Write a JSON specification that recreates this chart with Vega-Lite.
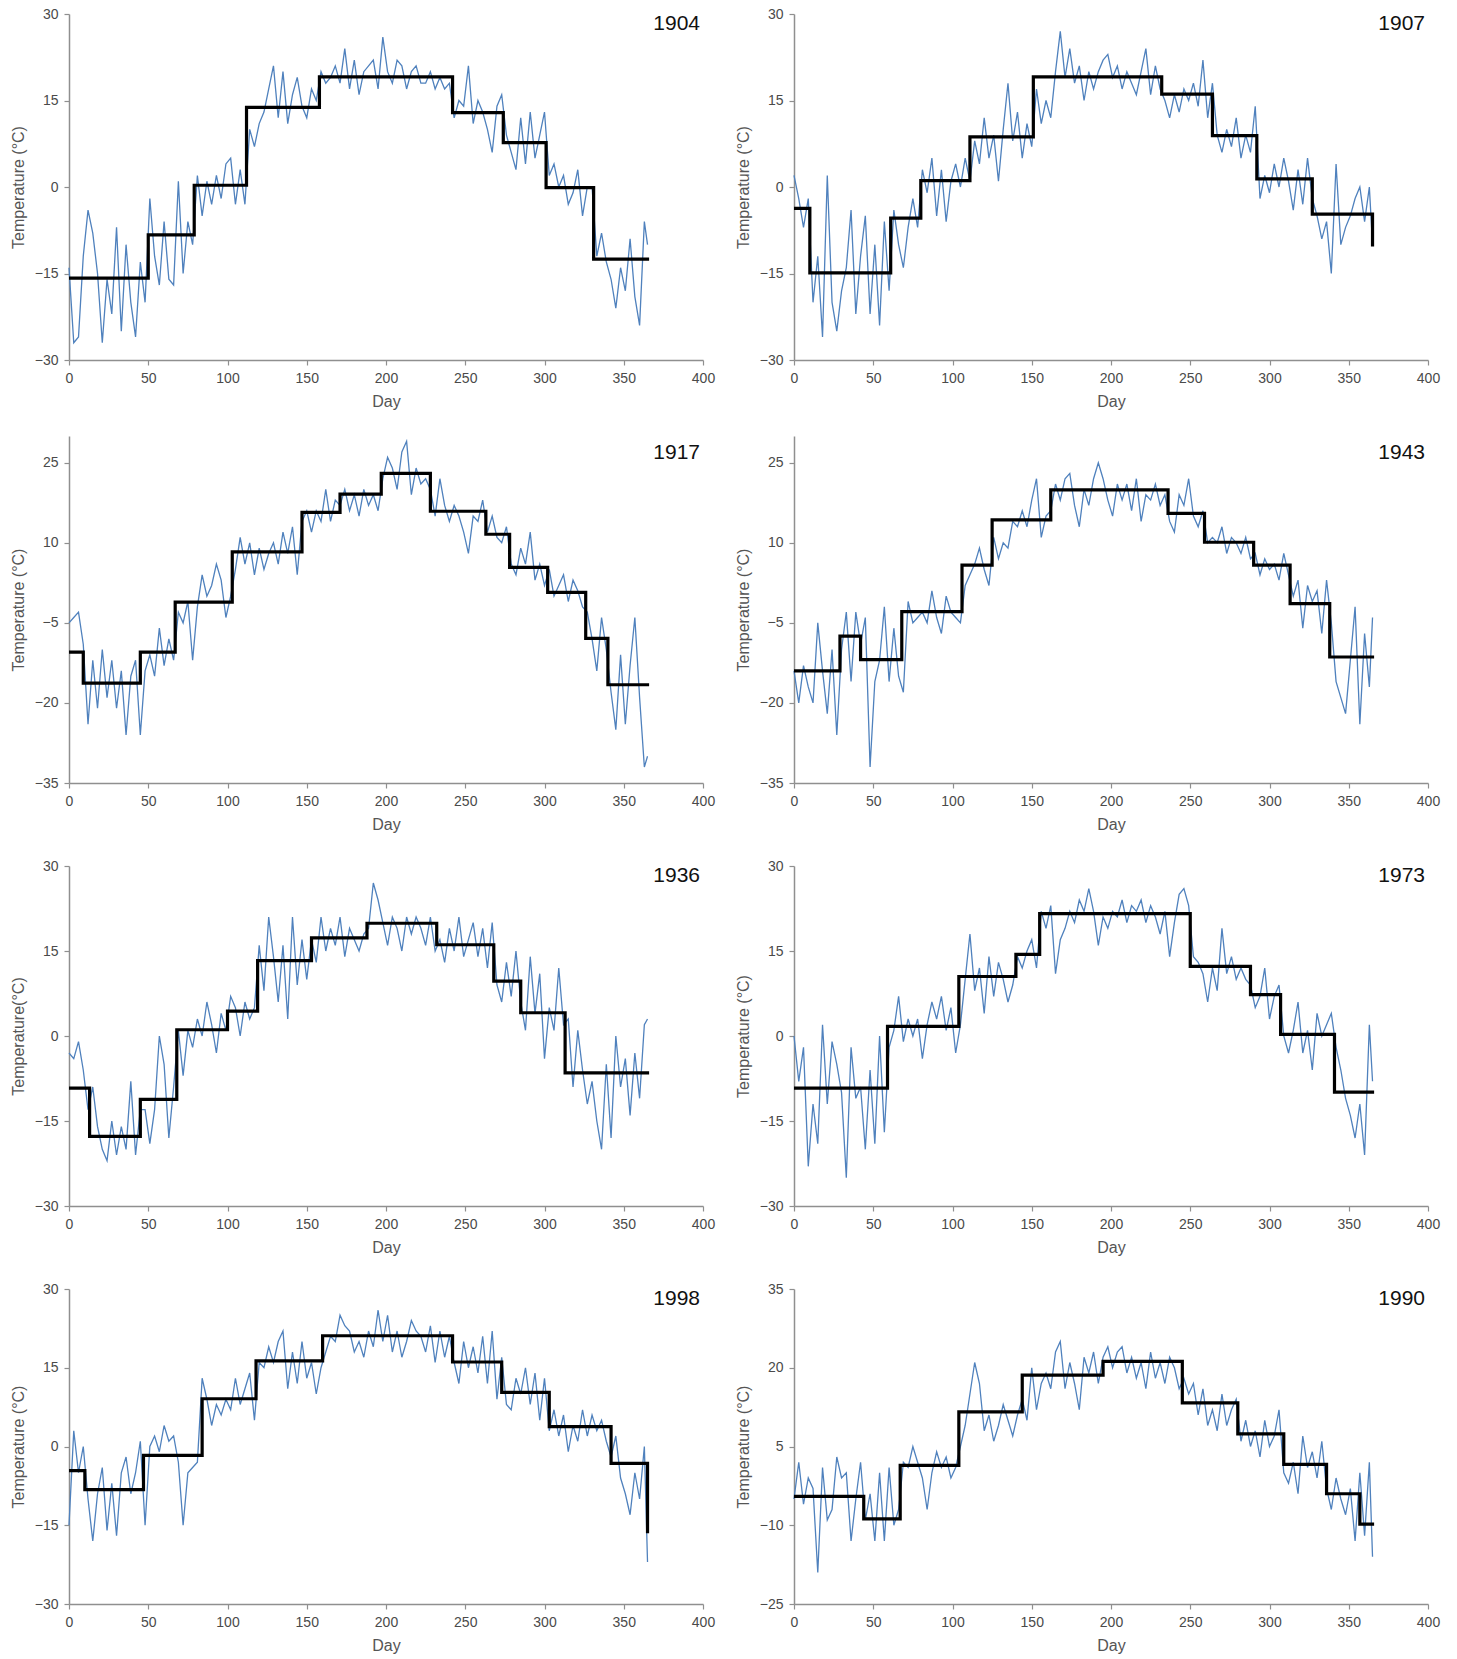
{
"$schema":"https://vega.github.io/schema/vega-lite/v6.json",
"background":"white",
"padding":{"left":10,"top":7,"right":5,"bottom":5},
"spacing":27,
"config":{
"view":{"stroke":null},
"axis":{"grid":false,"domainColor":"#8f8f8f","domainWidth":1.5,"tickColor":"#8f8f8f","tickWidth":1.2,"tickSize":5,"labelFont":"Liberation Sans","labelFontSize":14,"labelColor":"#4a4a4a","labelPadding":6,"labelFlush":false,"labelOverlap":false,"titleFont":"Liberation Sans","titleFontSize":16,"titleFontWeight":"normal","titleColor":"#555555","titlePadding":8},
"title":{"font":"Liberation Sans","fontSize":21,"fontWeight":"normal","color":"#111111","anchor":"end","frame":"group","offset":-27,"dx":-3}
},
"datasets":{
"daily":[
{"d":0,"t1904":-14,"t1907":2,"t1917":-5,"t1943":-14,"t1936":-3,"t1973":0,"t1998":-15,"t1990":-5},
{"d":3,"t1904":-27,"t1907":-2,"t1917":-4,"t1943":-20,"t1936":-4,"t1973":-8,"t1998":3,"t1990":2},
{"d":6,"t1904":-26,"t1907":-7,"t1917":-3,"t1943":-13,"t1936":-1,"t1973":-2,"t1998":-5,"t1990":-6},
{"d":9,"t1904":-12,"t1907":-2,"t1917":-9,"t1943":-17,"t1936":-6,"t1973":-23,"t1998":0,"t1990":-1},
{"d":12,"t1904":-4,"t1907":-20,"t1917":-24,"t1943":-20,"t1936":-13,"t1973":-12,"t1998":-10,"t1990":-3},
{"d":15,"t1904":-8,"t1907":-12,"t1917":-12,"t1943":-5,"t1936":-9,"t1973":-19,"t1998":-18,"t1990":-19},
{"d":18,"t1904":-15,"t1907":-26,"t1917":-21,"t1943":-14,"t1936":-16,"t1973":2,"t1998":-9,"t1990":1},
{"d":21,"t1904":-27,"t1907":2,"t1917":-10,"t1943":-22,"t1936":-20,"t1973":-12,"t1998":-4,"t1990":-9},
{"d":24,"t1904":-16,"t1907":-20,"t1917":-19,"t1943":-10,"t1936":-22,"t1973":-1,"t1998":-16,"t1990":-7},
{"d":27,"t1904":-22,"t1907":-25,"t1917":-12,"t1943":-26,"t1936":-15,"t1973":-5,"t1998":-7,"t1990":3},
{"d":30,"t1904":-7,"t1907":-18,"t1917":-21,"t1943":-10,"t1936":-21,"t1973":-10,"t1998":-17,"t1990":-1},
{"d":33,"t1904":-25,"t1907":-14,"t1917":-14,"t1943":-3,"t1936":-16,"t1973":-25,"t1998":-5,"t1990":0},
{"d":36,"t1904":-10,"t1907":-4,"t1917":-26,"t1943":-16,"t1936":-20,"t1973":-2,"t1998":-2,"t1990":-13},
{"d":39,"t1904":-20,"t1907":-22,"t1917":-15,"t1943":-3,"t1936":-8,"t1973":-11,"t1998":-9,"t1990":-5},
{"d":42,"t1904":-26,"t1907":-12,"t1917":-12,"t1943":-9,"t1936":-21,"t1973":-9,"t1998":-5,"t1990":2},
{"d":45,"t1904":-13,"t1907":-5,"t1917":-26,"t1943":-4,"t1936":-13,"t1973":-20,"t1998":1,"t1990":-9},
{"d":48,"t1904":-20,"t1907":-22,"t1917":-14,"t1943":-32,"t1936":-13,"t1973":-6,"t1998":-15,"t1990":-4},
{"d":51,"t1904":-2,"t1907":-10,"t1917":-11,"t1943":-16,"t1936":-19,"t1973":-19,"t1998":0,"t1990":-13},
{"d":54,"t1904":-12,"t1907":-24,"t1917":-15,"t1943":-12,"t1936":-13,"t1973":0,"t1998":2,"t1990":0},
{"d":57,"t1904":-17,"t1907":-6,"t1917":-6,"t1943":-2,"t1936":0,"t1973":-17,"t1998":-1,"t1990":-13},
{"d":60,"t1904":-6,"t1907":-18,"t1917":-13,"t1943":-16,"t1936":-5,"t1973":-2,"t1998":4,"t1990":1},
{"d":63,"t1904":-16,"t1907":-4,"t1917":-8,"t1943":-6,"t1936":-18,"t1973":1,"t1998":1,"t1990":-10},
{"d":66,"t1904":-17,"t1907":-10,"t1917":-12,"t1943":-15,"t1936":-9,"t1973":7,"t1998":2,"t1990":-7},
{"d":69,"t1904":1,"t1907":-14,"t1917":-3,"t1943":-18,"t1936":1,"t1973":-1,"t1998":-3,"t1990":2},
{"d":72,"t1904":-15,"t1907":-7,"t1917":-5,"t1943":-1,"t1936":-7,"t1973":3,"t1998":-15,"t1990":1},
{"d":75,"t1904":-6,"t1907":-2,"t1917":-1,"t1943":-5,"t1936":1,"t1973":0,"t1998":-5,"t1990":5},
{"d":78,"t1904":-10,"t1907":-7,"t1917":-12,"t1943":-4,"t1936":-2,"t1973":3,"t1998":-4,"t1990":2},
{"d":81,"t1904":2,"t1907":3,"t1917":-2,"t1943":-3,"t1936":3,"t1973":-4,"t1998":-3,"t1990":-1},
{"d":84,"t1904":-5,"t1907":-1,"t1917":4,"t1943":-5,"t1936":0,"t1973":2,"t1998":13,"t1990":-7},
{"d":87,"t1904":1,"t1907":5,"t1917":0,"t1943":1,"t1936":6,"t1973":6,"t1998":9,"t1990":0},
{"d":90,"t1904":-3,"t1907":-5,"t1917":2,"t1943":-4,"t1936":2,"t1973":3,"t1998":4,"t1990":4},
{"d":93,"t1904":2,"t1907":3,"t1917":6,"t1943":-7,"t1936":-3,"t1973":7,"t1998":8,"t1990":1},
{"d":96,"t1904":-2,"t1907":-6,"t1917":3,"t1943":0,"t1936":4,"t1973":1,"t1998":6,"t1990":3},
{"d":99,"t1904":4,"t1907":1,"t1917":-4,"t1943":-3,"t1936":1,"t1973":5,"t1998":9,"t1990":-1},
{"d":102,"t1904":5,"t1907":4,"t1917":0,"t1943":-4,"t1936":7,"t1973":-3,"t1998":7,"t1990":1},
{"d":105,"t1904":-3,"t1907":0,"t1917":5,"t1943":-5,"t1936":5,"t1973":2,"t1998":13,"t1990":5},
{"d":108,"t1904":3,"t1907":5,"t1917":11,"t1943":2,"t1936":0,"t1973":10,"t1998":8,"t1990":9},
{"d":111,"t1904":-3,"t1907":1,"t1917":6,"t1943":4,"t1936":6,"t1973":18,"t1998":11,"t1990":15},
{"d":114,"t1904":10,"t1907":8,"t1917":10,"t1943":6,"t1936":3,"t1973":8,"t1998":14,"t1990":21},
{"d":117,"t1904":7,"t1907":4,"t1917":4,"t1943":9,"t1936":5,"t1973":12,"t1998":5,"t1990":17},
{"d":120,"t1904":11,"t1907":12,"t1917":9,"t1943":5,"t1936":16,"t1973":4,"t1998":16,"t1990":8},
{"d":123,"t1904":13,"t1907":5,"t1917":5,"t1943":2,"t1936":8,"t1973":14,"t1998":15,"t1990":11},
{"d":126,"t1904":17,"t1907":9,"t1917":8,"t1943":11,"t1936":21,"t1973":7,"t1998":19,"t1990":6},
{"d":129,"t1904":21,"t1907":1,"t1917":10,"t1943":7,"t1936":14,"t1973":13,"t1998":16,"t1990":9},
{"d":132,"t1904":12,"t1907":10,"t1917":6,"t1943":10,"t1936":6,"t1973":10,"t1998":20,"t1990":13},
{"d":135,"t1904":20,"t1907":18,"t1917":12,"t1943":9,"t1936":16,"t1973":6,"t1998":22,"t1990":10},
{"d":138,"t1904":11,"t1907":8,"t1917":8,"t1943":14,"t1936":3,"t1973":9,"t1998":11,"t1990":7},
{"d":141,"t1904":16,"t1907":13,"t1917":13,"t1943":13,"t1936":21,"t1973":14,"t1998":18,"t1990":11},
{"d":144,"t1904":19,"t1907":5,"t1917":4,"t1943":16,"t1936":9,"t1973":12,"t1998":12,"t1990":14},
{"d":147,"t1904":14,"t1907":11,"t1917":14,"t1943":13,"t1936":17,"t1973":15,"t1998":20,"t1990":10},
{"d":150,"t1904":12,"t1907":7,"t1917":16,"t1943":18,"t1936":10,"t1973":17,"t1998":13,"t1990":20},
{"d":153,"t1904":17,"t1907":17,"t1917":12,"t1943":22,"t1936":17,"t1973":12,"t1998":16,"t1990":12},
{"d":156,"t1904":15,"t1907":11,"t1917":16,"t1943":11,"t1936":13,"t1973":22,"t1998":10,"t1990":17},
{"d":159,"t1904":20,"t1907":15,"t1917":14,"t1943":15,"t1936":21,"t1973":19,"t1998":15,"t1990":19},
{"d":162,"t1904":18,"t1907":12,"t1917":20,"t1943":16,"t1936":15,"t1973":23,"t1998":18,"t1990":16},
{"d":165,"t1904":19,"t1907":20,"t1917":14,"t1943":21,"t1936":19,"t1973":11,"t1998":21,"t1990":23},
{"d":168,"t1904":21,"t1907":27,"t1917":18,"t1943":18,"t1936":16,"t1973":17,"t1998":20,"t1990":25},
{"d":171,"t1904":18,"t1907":19,"t1917":17,"t1943":22,"t1936":21,"t1973":19,"t1998":25,"t1990":16},
{"d":174,"t1904":24,"t1907":24,"t1917":20,"t1943":23,"t1936":14,"t1973":22,"t1998":23,"t1990":21},
{"d":177,"t1904":17,"t1907":18,"t1917":16,"t1943":17,"t1936":19,"t1973":20,"t1998":22,"t1990":17},
{"d":180,"t1904":22,"t1907":21,"t1917":19,"t1943":13,"t1936":17,"t1973":24,"t1998":18,"t1990":12},
{"d":183,"t1904":16,"t1907":15,"t1917":15,"t1943":20,"t1936":15,"t1973":22,"t1998":20,"t1990":22},
{"d":186,"t1904":20,"t1907":20,"t1917":20,"t1943":17,"t1936":18,"t1973":26,"t1998":17,"t1990":19},
{"d":189,"t1904":21,"t1907":17,"t1917":17,"t1943":22,"t1936":19,"t1973":22,"t1998":22,"t1990":23},
{"d":192,"t1904":22,"t1907":20,"t1917":19,"t1943":25,"t1936":27,"t1973":16,"t1998":19,"t1990":17},
{"d":195,"t1904":17,"t1907":22,"t1917":16,"t1943":22,"t1936":24,"t1973":21,"t1998":26,"t1990":22},
{"d":198,"t1904":26,"t1907":23,"t1917":22,"t1943":18,"t1936":20,"t1973":19,"t1998":20,"t1990":24},
{"d":201,"t1904":20,"t1907":19,"t1917":26,"t1943":15,"t1936":16,"t1973":22,"t1998":25,"t1990":20},
{"d":204,"t1904":18,"t1907":21,"t1917":24,"t1943":21,"t1936":21,"t1973":21,"t1998":18,"t1990":23},
{"d":207,"t1904":22,"t1907":17,"t1917":20,"t1943":18,"t1936":19,"t1973":24,"t1998":22,"t1990":24},
{"d":210,"t1904":21,"t1907":20,"t1917":27,"t1943":21,"t1936":15,"t1973":20,"t1998":17,"t1990":19},
{"d":213,"t1904":17,"t1907":18,"t1917":29,"t1943":16,"t1936":21,"t1973":23,"t1998":20,"t1990":22},
{"d":216,"t1904":20,"t1907":16,"t1917":19,"t1943":22,"t1936":18,"t1973":22,"t1998":24,"t1990":18},
{"d":219,"t1904":21,"t1907":20,"t1917":24,"t1943":14,"t1936":21,"t1973":24,"t1998":22,"t1990":21},
{"d":222,"t1904":18,"t1907":24,"t1917":21,"t1943":19,"t1936":19,"t1973":20,"t1998":21,"t1990":16},
{"d":225,"t1904":18,"t1907":16,"t1917":22,"t1943":18,"t1936":16,"t1973":23,"t1998":18,"t1990":23},
{"d":228,"t1904":20,"t1907":21,"t1917":20,"t1943":21,"t1936":21,"t1973":21,"t1998":23,"t1990":18},
{"d":231,"t1904":17,"t1907":17,"t1917":15,"t1943":17,"t1936":15,"t1973":18,"t1998":16,"t1990":21},
{"d":234,"t1904":19,"t1907":15,"t1917":22,"t1943":19,"t1936":17,"t1973":22,"t1998":22,"t1990":17},
{"d":237,"t1904":17,"t1907":12,"t1917":17,"t1943":14,"t1936":13,"t1973":14,"t1998":17,"t1990":22},
{"d":240,"t1904":18,"t1907":16,"t1917":14,"t1943":12,"t1936":19,"t1973":20,"t1998":21,"t1990":20},
{"d":243,"t1904":12,"t1907":13,"t1917":17,"t1943":19,"t1936":15,"t1973":25,"t1998":16,"t1990":16},
{"d":246,"t1904":15,"t1907":17,"t1917":15,"t1943":17,"t1936":21,"t1973":26,"t1998":12,"t1990":18},
{"d":249,"t1904":14,"t1907":15,"t1917":12,"t1943":22,"t1936":14,"t1973":23,"t1998":20,"t1990":15},
{"d":252,"t1904":21,"t1907":18,"t1917":8,"t1943":15,"t1936":17,"t1973":14,"t1998":15,"t1990":17},
{"d":255,"t1904":11,"t1907":14,"t1917":15,"t1943":13,"t1936":20,"t1973":13,"t1998":19,"t1990":11},
{"d":258,"t1904":15,"t1907":22,"t1917":14,"t1943":16,"t1936":14,"t1973":11,"t1998":14,"t1990":16},
{"d":261,"t1904":13,"t1907":12,"t1917":18,"t1943":10,"t1936":19,"t1973":6,"t1998":21,"t1990":9},
{"d":264,"t1904":10,"t1907":18,"t1917":12,"t1943":11,"t1936":12,"t1973":12,"t1998":12,"t1990":12},
{"d":267,"t1904":6,"t1907":9,"t1917":15,"t1943":10,"t1936":20,"t1973":8,"t1998":22,"t1990":8},
{"d":270,"t1904":14,"t1907":6,"t1917":11,"t1943":13,"t1936":9,"t1973":19,"t1998":9,"t1990":15},
{"d":273,"t1904":16,"t1907":10,"t1917":10,"t1943":8,"t1936":6,"t1973":11,"t1998":17,"t1990":9},
{"d":276,"t1904":9,"t1907":7,"t1917":13,"t1943":11,"t1936":13,"t1973":14,"t1998":8,"t1990":12},
{"d":279,"t1904":6,"t1907":12,"t1917":6,"t1943":10,"t1936":7,"t1973":10,"t1998":7,"t1990":14},
{"d":282,"t1904":3,"t1907":5,"t1917":4,"t1943":8,"t1936":15,"t1973":12,"t1998":13,"t1990":6},
{"d":285,"t1904":12,"t1907":9,"t1917":9,"t1943":11,"t1936":6,"t1973":10,"t1998":10,"t1990":10},
{"d":288,"t1904":4,"t1907":6,"t1917":6,"t1943":7,"t1936":1,"t1973":9,"t1998":15,"t1990":5},
{"d":291,"t1904":13,"t1907":14,"t1917":12,"t1943":8,"t1936":14,"t1973":5,"t1998":8,"t1990":8},
{"d":294,"t1904":5,"t1907":-2,"t1917":3,"t1943":4,"t1936":4,"t1973":7,"t1998":14,"t1990":3},
{"d":297,"t1904":9,"t1907":2,"t1917":6,"t1943":7,"t1936":11,"t1973":12,"t1998":5,"t1990":10},
{"d":300,"t1904":13,"t1907":-1,"t1917":2,"t1943":5,"t1936":-4,"t1973":3,"t1998":13,"t1990":5},
{"d":303,"t1904":2,"t1907":4,"t1917":5,"t1943":6,"t1936":5,"t1973":7,"t1998":3,"t1990":7},
{"d":306,"t1904":4,"t1907":0,"t1917":0,"t1943":3,"t1936":1,"t1973":9,"t1998":7,"t1990":12},
{"d":309,"t1904":0,"t1907":5,"t1917":2,"t1943":8,"t1936":12,"t1973":0,"t1998":2,"t1990":0},
{"d":312,"t1904":2,"t1907":1,"t1917":4,"t1943":4,"t1936":2,"t1973":-3,"t1998":6,"t1990":-2},
{"d":315,"t1904":-3,"t1907":-4,"t1917":-1,"t1943":0,"t1936":3,"t1973":1,"t1998":-1,"t1990":2},
{"d":318,"t1904":-1,"t1907":3,"t1917":3,"t1943":3,"t1936":-9,"t1973":6,"t1998":4,"t1990":-4},
{"d":321,"t1904":3,"t1907":-3,"t1917":1,"t1943":-6,"t1936":1,"t1973":-3,"t1998":1,"t1990":7},
{"d":324,"t1904":-5,"t1907":5,"t1917":-2,"t1943":2,"t1936":-6,"t1973":1,"t1998":7,"t1990":1},
{"d":327,"t1904":0,"t1907":-2,"t1917":-3,"t1943":-1,"t1936":-12,"t1973":-6,"t1998":2,"t1990":4},
{"d":330,"t1904":0,"t1907":-5,"t1917":-8,"t1943":1,"t1936":-8,"t1973":4,"t1998":6,"t1990":-1},
{"d":333,"t1904":-12,"t1907":-9,"t1917":-14,"t1943":-7,"t1936":-15,"t1973":0,"t1998":3,"t1990":6},
{"d":336,"t1904":-8,"t1907":-6,"t1917":-4,"t1943":3,"t1936":-20,"t1973":2,"t1998":5,"t1990":-3},
{"d":339,"t1904":-13,"t1907":-15,"t1917":-10,"t1943":-5,"t1936":-5,"t1973":4,"t1998":1,"t1990":-7},
{"d":342,"t1904":-16,"t1907":4,"t1917":-18,"t1943":-16,"t1936":-18,"t1973":-2,"t1998":-2,"t1990":-1},
{"d":345,"t1904":-21,"t1907":-10,"t1917":-25,"t1943":-19,"t1936":0,"t1973":-6,"t1998":2,"t1990":-5},
{"d":348,"t1904":-14,"t1907":-7,"t1917":-11,"t1943":-22,"t1936":-9,"t1973":-11,"t1998":-6,"t1990":-8},
{"d":351,"t1904":-18,"t1907":-5,"t1917":-24,"t1943":-12,"t1936":-4,"t1973":-14,"t1998":-9,"t1990":-3},
{"d":354,"t1904":-9,"t1907":-2,"t1917":-13,"t1943":-2,"t1936":-14,"t1973":-18,"t1998":-13,"t1990":-13},
{"d":357,"t1904":-19,"t1907":0,"t1917":-4,"t1943":-24,"t1936":-3,"t1973":-12,"t1998":-5,"t1990":0},
{"d":360,"t1904":-24,"t1907":-6,"t1917":-19,"t1943":-7,"t1936":-11,"t1973":-21,"t1998":-10,"t1990":-12},
{"d":363,"t1904":-6,"t1907":0,"t1917":-32,"t1943":-17,"t1936":2,"t1973":2,"t1998":0,"t1990":2},
{"d":365,"t1904":-10,"t1907":-10,"t1917":-30,"t1943":-4,"t1936":3,"t1973":-8,"t1998":-22,"t1990":-16}
],
"s1904":[{"d":0,"v":-15.8},{"d":50,"v":-8.3},{"d":79,"v":0.3},{"d":112,"v":13.8},{"d":158,"v":19.1},{"d":242,"v":12.9},{"d":274,"v":7.7},{"d":301,"v":-0.1},{"d":331,"v":-12.5},{"d":366,"v":-12.5}],
"s1907":[{"d":0,"v":-3.7},{"d":10,"v":-14.9},{"d":61,"v":-5.4},{"d":80,"v":1.1},{"d":111,"v":8.7},{"d":151,"v":19.1},{"d":232,"v":16.1},{"d":264,"v":8.9},{"d":292,"v":1.4},{"d":327,"v":-4.7},{"d":365,"v":-10.3}],
"s1917":[{"d":0,"v":-10.5},{"d":9,"v":-16.3},{"d":45,"v":-10.5},{"d":67,"v":-1.1},{"d":103,"v":8.3},{"d":147,"v":15.7},{"d":171,"v":19.1},{"d":197,"v":23},{"d":228,"v":15.9},{"d":263,"v":11.6},{"d":278,"v":5.4},{"d":302,"v":0.7},{"d":326,"v":-7.9},{"d":340,"v":-16.6},{"d":366,"v":-16.6}],
"s1943":[{"d":0,"v":-14},{"d":29,"v":-7.5},{"d":42,"v":-11.9},{"d":68,"v":-2.9},{"d":106,"v":5.8},{"d":125,"v":14.3},{"d":162,"v":19.9},{"d":236,"v":15.5},{"d":259,"v":10.1},{"d":290,"v":5.8},{"d":313,"v":-1.4},{"d":338,"v":-11.4},{"d":366,"v":-11.4}],
"s1936":[{"d":0,"v":-9.2},{"d":13,"v":-17.7},{"d":45,"v":-11.2},{"d":68,"v":1.1},{"d":100,"v":4.4},{"d":119,"v":13.3},{"d":153,"v":17.3},{"d":188,"v":19.9},{"d":232,"v":16.1},{"d":268,"v":9.7},{"d":285,"v":4.1},{"d":313,"v":-6.5},{"d":366,"v":-6.5}],
"s1973":[{"d":0,"v":-9.2},{"d":59,"v":1.7},{"d":104,"v":10.5},{"d":140,"v":14.4},{"d":155,"v":21.6},{"d":250,"v":12.3},{"d":288,"v":7.3},{"d":307,"v":0.3},{"d":341,"v":-9.9},{"d":366,"v":-9.9}],
"s1998":[{"d":0,"v":-4.6},{"d":10,"v":-8.2},{"d":47,"v":-1.7},{"d":84,"v":9.1},{"d":118,"v":16.3},{"d":160,"v":21.1},{"d":242,"v":16.1},{"d":273,"v":10.3},{"d":303,"v":3.8},{"d":342,"v":-3.2},{"d":365,"v":-16.5}],
"s1990":[{"d":0,"v":-4.5},{"d":44,"v":-8.8},{"d":67,"v":1.4},{"d":104,"v":11.6},{"d":144,"v":18.6},{"d":195,"v":21.2},{"d":245,"v":13.3},{"d":280,"v":7.4},{"d":309,"v":1.6},{"d":336,"v":-4},{"d":357,"v":-9.8},{"d":366,"v":-9.8}]
},
"vconcat":[
{"spacing":20,"hconcat":[
{"width":634,"height":346,"title":"1904","layer":[
{"data":{"name":"daily"},"mark":{"type":"line","color":"#4F81BD","strokeWidth":1.3},"encoding":{"x":{"field":"d","type":"quantitative","title":"Day","scale":{"domain":[0,400],"nice":false},"axis":{"values":[0,50,100,150,200,250,300,350,400]}},"y":{"field":"t1904","type":"quantitative","title":"Temperature (°C)","scale":{"domain":[-30,30],"nice":false,"zero":false},"axis":{"values":[-30,-15,0,15,30]}}}},
{"data":{"name":"s1904"},"mark":{"type":"line","interpolate":"step-after","color":"#000000","strokeWidth":3.2},"encoding":{"x":{"field":"d","type":"quantitative","title":"Day"},"y":{"field":"v","type":"quantitative","title":"Temperature (°C)"}}}
]},
{"width":634,"height":346,"title":"1907","layer":[
{"data":{"name":"daily"},"mark":{"type":"line","color":"#4F81BD","strokeWidth":1.3},"encoding":{"x":{"field":"d","type":"quantitative","title":"Day","scale":{"domain":[0,400],"nice":false},"axis":{"values":[0,50,100,150,200,250,300,350,400]}},"y":{"field":"t1907","type":"quantitative","title":"Temperature (°C)","scale":{"domain":[-30,30],"nice":false,"zero":false},"axis":{"values":[-30,-15,0,15,30]}}}},
{"data":{"name":"s1907"},"mark":{"type":"line","interpolate":"step-after","color":"#000000","strokeWidth":3.2},"encoding":{"x":{"field":"d","type":"quantitative","title":"Day"},"y":{"field":"v","type":"quantitative","title":"Temperature (°C)"}}}
]}
]},
{"spacing":20,"hconcat":[
{"width":634,"height":347,"title":"1917","layer":[
{"data":{"name":"daily"},"mark":{"type":"line","color":"#4F81BD","strokeWidth":1.3},"encoding":{"x":{"field":"d","type":"quantitative","title":"Day","scale":{"domain":[0,400],"nice":false},"axis":{"values":[0,50,100,150,200,250,300,350,400]}},"y":{"field":"t1917","type":"quantitative","title":"Temperature (°C)","scale":{"domain":[-35,30],"nice":false,"zero":false},"axis":{"values":[-35,-20,-5,10,25]}}}},
{"data":{"name":"s1917"},"mark":{"type":"line","interpolate":"step-after","color":"#000000","strokeWidth":3.2},"encoding":{"x":{"field":"d","type":"quantitative","title":"Day"},"y":{"field":"v","type":"quantitative","title":"Temperature (°C)"}}}
]},
{"width":634,"height":347,"title":"1943","layer":[
{"data":{"name":"daily"},"mark":{"type":"line","color":"#4F81BD","strokeWidth":1.3},"encoding":{"x":{"field":"d","type":"quantitative","title":"Day","scale":{"domain":[0,400],"nice":false},"axis":{"values":[0,50,100,150,200,250,300,350,400]}},"y":{"field":"t1943","type":"quantitative","title":"Temperature (°C)","scale":{"domain":[-35,30],"nice":false,"zero":false},"axis":{"values":[-35,-20,-5,10,25]}}}},
{"data":{"name":"s1943"},"mark":{"type":"line","interpolate":"step-after","color":"#000000","strokeWidth":3.2},"encoding":{"x":{"field":"d","type":"quantitative","title":"Day"},"y":{"field":"v","type":"quantitative","title":"Temperature (°C)"}}}
]}
]},
{"spacing":20,"hconcat":[
{"width":634,"height":340,"title":"1936","layer":[
{"data":{"name":"daily"},"mark":{"type":"line","color":"#4F81BD","strokeWidth":1.3},"encoding":{"x":{"field":"d","type":"quantitative","title":"Day","scale":{"domain":[0,400],"nice":false},"axis":{"values":[0,50,100,150,200,250,300,350,400]}},"y":{"field":"t1936","type":"quantitative","title":"Temperature(°C)","scale":{"domain":[-30,30],"nice":false,"zero":false},"axis":{"values":[-30,-15,0,15,30]}}}},
{"data":{"name":"s1936"},"mark":{"type":"line","interpolate":"step-after","color":"#000000","strokeWidth":3.2},"encoding":{"x":{"field":"d","type":"quantitative","title":"Day"},"y":{"field":"v","type":"quantitative","title":"Temperature(°C)"}}}
]},
{"width":634,"height":340,"title":"1973","layer":[
{"data":{"name":"daily"},"mark":{"type":"line","color":"#4F81BD","strokeWidth":1.3},"encoding":{"x":{"field":"d","type":"quantitative","title":"Day","scale":{"domain":[0,400],"nice":false},"axis":{"values":[0,50,100,150,200,250,300,350,400]}},"y":{"field":"t1973","type":"quantitative","title":"Temperature (°C)","scale":{"domain":[-30,30],"nice":false,"zero":false},"axis":{"values":[-30,-15,0,15,30]}}}},
{"data":{"name":"s1973"},"mark":{"type":"line","interpolate":"step-after","color":"#000000","strokeWidth":3.2},"encoding":{"x":{"field":"d","type":"quantitative","title":"Day"},"y":{"field":"v","type":"quantitative","title":"Temperature (°C)"}}}
]}
]},
{"spacing":20,"hconcat":[
{"width":634,"height":315,"title":"1998","layer":[
{"data":{"name":"daily"},"mark":{"type":"line","color":"#4F81BD","strokeWidth":1.3},"encoding":{"x":{"field":"d","type":"quantitative","title":"Day","scale":{"domain":[0,400],"nice":false},"axis":{"values":[0,50,100,150,200,250,300,350,400]}},"y":{"field":"t1998","type":"quantitative","title":"Temperature (°C)","scale":{"domain":[-30,30],"nice":false,"zero":false},"axis":{"values":[-30,-15,0,15,30]}}}},
{"data":{"name":"s1998"},"mark":{"type":"line","interpolate":"step-after","color":"#000000","strokeWidth":3.2},"encoding":{"x":{"field":"d","type":"quantitative","title":"Day"},"y":{"field":"v","type":"quantitative","title":"Temperature (°C)"}}}
]},
{"width":634,"height":315,"title":"1990","layer":[
{"data":{"name":"daily"},"mark":{"type":"line","color":"#4F81BD","strokeWidth":1.3},"encoding":{"x":{"field":"d","type":"quantitative","title":"Day","scale":{"domain":[0,400],"nice":false},"axis":{"values":[0,50,100,150,200,250,300,350,400]}},"y":{"field":"t1990","type":"quantitative","title":"Temperature (°C)","scale":{"domain":[-25,35],"nice":false,"zero":false},"axis":{"values":[-25,-10,5,20,35]}}}},
{"data":{"name":"s1990"},"mark":{"type":"line","interpolate":"step-after","color":"#000000","strokeWidth":3.2},"encoding":{"x":{"field":"d","type":"quantitative","title":"Day"},"y":{"field":"v","type":"quantitative","title":"Temperature (°C)"}}}
]}
]}
]
}
